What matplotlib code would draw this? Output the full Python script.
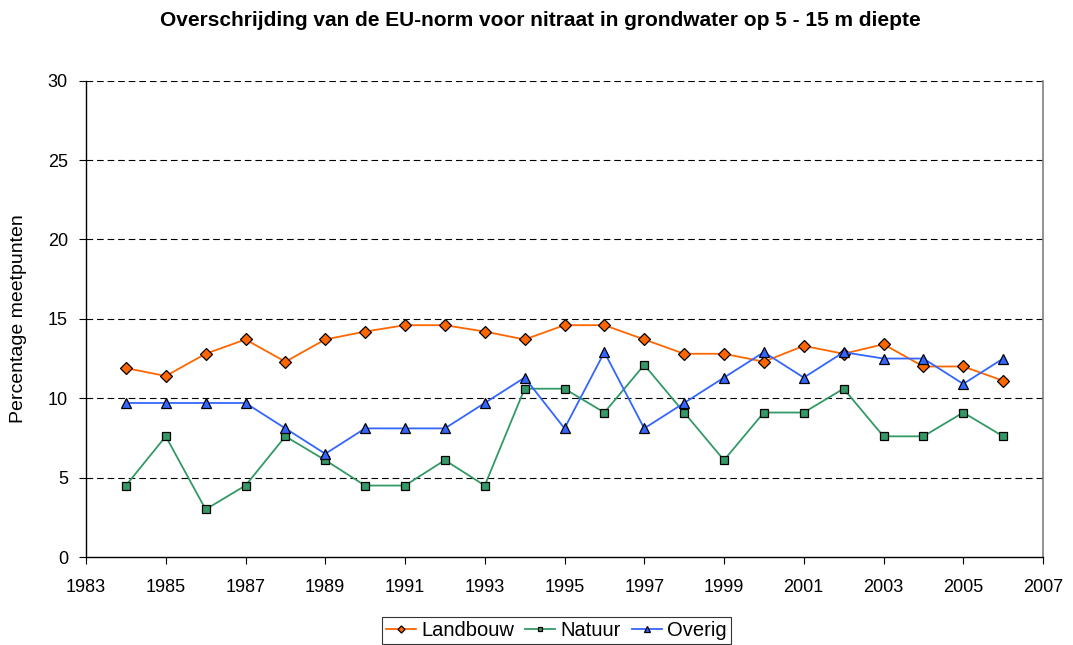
import matplotlib
matplotlib.use('Agg')
from matplotlib import pyplot as plt

plt.rcParams['font.family'] = ['Liberation Sans', 'DejaVu Sans']

years = list(range(1984, 2007))
landbouw = [11.9, 11.4, 12.8, 13.7, 12.3, 13.7, 14.2, 14.6, 14.6, 14.2, 13.7,
            14.6, 14.6, 13.7, 12.8, 12.8, 12.3, 13.3, 12.8, 13.4, 12.0, 12.0, 11.1]
natuur = [4.5, 7.6, 3.0, 4.5, 7.6, 6.1, 4.5, 4.5, 6.1, 4.5, 10.6,
          10.6, 9.1, 12.1, 9.1, 6.1, 9.1, 9.1, 10.6, 7.6, 7.6, 9.1, 7.6]
overig = [9.7, 9.7, 9.7, 9.7, 8.1, 6.5, 8.1, 8.1, 8.1, 9.7, 11.3,
          8.1, 12.9, 8.1, 9.7, 11.3, 12.9, 11.3, 12.9, 12.5, 12.5, 10.9, 12.5]
xticks = list(range(1983, 2008, 2))
yticks = [0, 5, 10, 15, 20, 25, 30]

fig = plt.figure(figsize=(10.73, 6.45), dpi=100)
ax = fig.add_axes([86/1073, 88/645, 957/1073, 476.3/645])

# gridlines first so the series sit on top
for y in yticks[1:]:
    ax.axhline(y, color='black', lw=0.8, dashes=(6, 3.5), zorder=1)

ax.plot(years, landbouw, color='#FF6600', lw=1.3, marker='D', ms=6,
        mfc='#FF6600', mec='black', mew=0.9, label='Landbouw', zorder=3)
ax.plot(years, natuur, color='#339966', lw=1.3, marker='s', ms=6,
        mfc='#339966', mec='black', mew=0.9, label='Natuur', zorder=3)
ax.plot(years, overig, color='#3366FF', lw=1.3, marker='^', ms=6.5,
        mfc='#3366FF', mec='black', mew=0.9, label='Overig', zorder=3)

ax.set_xlim(1983, 2007)
ax.set_ylim(0, 30)
ax.set_xticks(xticks)
ax.set_yticks(yticks)
ax.tick_params(axis='both', direction='out', length=5, width=0.8, labelsize=13)
ax.tick_params(axis='x', pad=11)
ax.tick_params(axis='y', pad=8)

ax.spines['top'].set_visible(False)
ax.spines['right'].set_color('#808080')
ax.spines['right'].set_linewidth(1.2)
ax.spines['left'].set_linewidth(1.0)
ax.spines['bottom'].set_linewidth(1.0)

ax.set_ylabel('Percentage meetpunten', fontsize=14)
ax.yaxis.set_label_coords(-0.0615, 0.5)
fig.suptitle('Overschrijding van de EU-norm voor nitraat in grondwater op 5 - 15 m diepte',
             fontsize=15, fontweight='bold', x=540/1073, y=1 - 11/645, va='top')

leg = ax.legend(loc='upper center', bbox_to_anchor=(0.4916, -0.126), ncol=3, fontsize=14.5,
                frameon=True, fancybox=False, edgecolor='black', handlelength=1.5,
                handletextpad=0.25, columnspacing=0.55, borderpad=0.2, borderaxespad=0,
                markerscale=0.6)
leg.get_frame().set_linewidth(0.8)

plt.savefig('out.png', dpi=100)
